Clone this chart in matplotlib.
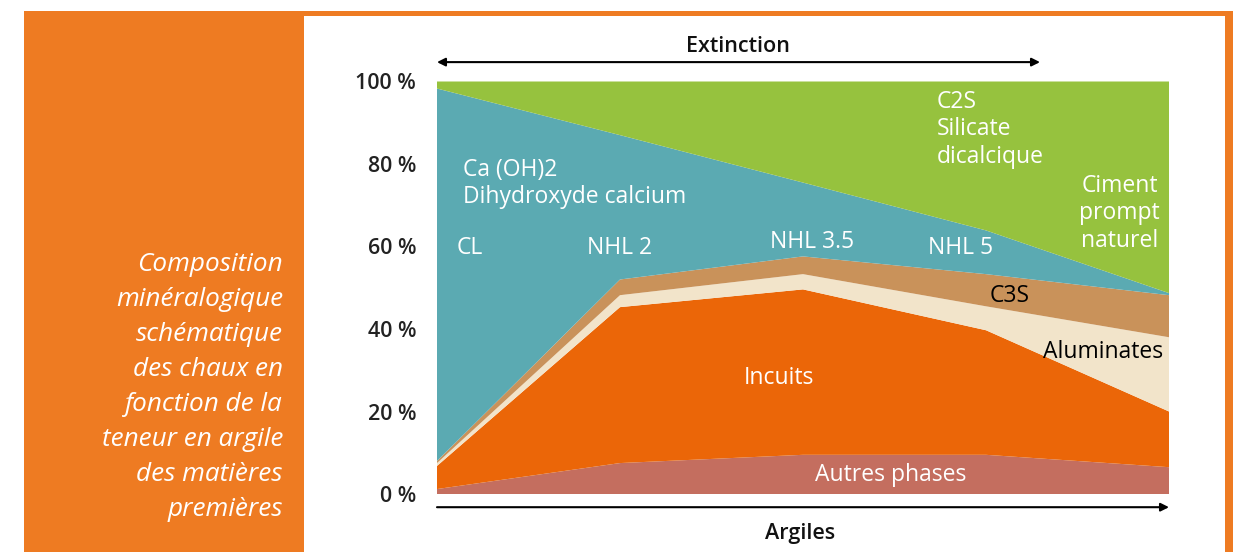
import matplotlib

matplotlib.use("Agg")
import matplotlib.pyplot as plt
from matplotlib.patches import Rectangle

plt.rcParams["font.family"] = ["Open Sans", "DejaVu Sans"]

# 5 positions along the clay-content axis
POSITIONS = [0, 1, 2, 3, 4]
# stacked layer thicknesses (%), bottom to top
AUTRES = [1.2, 7.5, 9.5, 9.5, 6.5]
INCUITS = [5.6, 37.8, 40.1, 30.2, 13.5]
ALUMINATES = [0.7, 2.9, 3.7, 5.8, 18.0]
C3S = [0.5, 3.8, 4.3, 7.8, 10.2]
CAOH2 = [90.3, 35.0, 17.9, 10.6, 0.5]
C2S = [1.7, 13.0, 24.5, 36.1, 51.3]

LAYERS = [AUTRES, INCUITS, ALUMINATES, C3S, CAOH2, C2S]
COLORS = ["#C46E5F", "#EB6608", "#F2E4CA", "#C9925A", "#5BAAB2", "#96C23E"]
YTICKS = [0, 20, 40, 60, 80, 100]
YTICK_LABELS = ["0 %", "20 %", "40 %", "60 %", "80 %", "100 %"]

ORANGE = "#EE7B22"
W, H = 1239, 552

fig = plt.figure(figsize=(W / 100, H / 100), dpi=100)

# cadre orange
def px_rect(x0, y0, x1, y1):
    fig.patches.append(Rectangle((x0 / W, 1 - y1 / H), (x1 - x0) / W, (y1 - y0) / H,
                                 transform=fig.transFigure, color=ORANGE, lw=0, zorder=0))

px_rect(24, 11, 304, 552)
px_rect(24, 11, 1233, 16)
px_rect(1225, 11, 1233, 552)

fig.text(283 / W, 1 - 387 / H,
         "Composition\nminéralogique\nschématique\ndes chaux en\nfonction de la\nteneur en argile\ndes matières\npremières",
         ha="right", va="center", color="white", style="italic", fontsize=18.8, linespacing=1.52)

ax = fig.add_axes([437 / W, 1 - 494 / H, (1169 - 437) / W, (494 - 81.5) / H])
ax.stackplot(POSITIONS, *LAYERS, colors=COLORS, linewidth=0)
ax.set_xlim(0, 4)
ax.set_ylim(0, 100)
ax.set_xticks([])
ax.set_yticks(YTICKS)
ax.set_yticklabels(YTICK_LABELS, fontsize=15.5, fontweight="semibold", color="#222222")
ax.tick_params(axis="y", length=0, pad=15)
for s in ax.spines.values():
    s.set_visible(False)

# étiquettes dans le graphique
txt = dict(color="white", fontsize=16.5, fontweight="medium")
ax.text(0.142, 75.3, "Ca (OH)2\nDihydroxyde calcium", ha="left", va="center", linespacing=1.2, **txt)
ax.text(0.18, 59.6, "CL", ha="center", va="center", **txt)
ax.text(1.0, 59.6, "NHL 2", ha="center", va="center", **txt)
ax.text(2.05, 61.0, "NHL 3.5", ha="center", va="center", **txt)
ax.text(2.86, 59.6, "NHL 5", ha="center", va="center", **txt)
ax.text(2.73, 88.4, "C2S\nSilicate\ndicalcique", ha="left", va="center", linespacing=1.2, **txt)
ax.text(3.73, 68.0, "Ciment\nprompt\nnaturel", ha="center", va="center", linespacing=1.2, **txt)
ax.text(1.87, 28.1, "Incuits", ha="center", va="center", **txt)
ax.text(2.48, 4.6, "Autres phases", ha="center", va="center", **txt)
ax.text(3.13, 48.0, "C3S", ha="center", va="center", color="black", fontsize=16.5, fontweight="medium")
ax.text(3.64, 34.4, "Aluminates", ha="center", va="center", color="black", fontsize=16.5,
        fontweight="medium")

# flèches
arrow = dict(arrowstyle="-|>", color="black", lw=1.5, mutation_scale=12, shrinkA=0, shrinkB=0)
ax.annotate("", xy=(4.0, -3.2), xytext=(0.0, -3.2), xycoords="data",
            arrowprops=arrow, annotation_clip=False)
ax.annotate("", xy=((1040 - 437) / 183, 104.7), xytext=(0.0, 104.7), xycoords="data",
            arrowprops=dict(arrow, arrowstyle="<|-|>"), annotation_clip=False)
fig.text(738 / W, 1 - 46 / H, "Extinction", ha="center", va="center",
         fontsize=15.5, fontweight="semibold", color="#111111")
fig.text(800 / W, 1 - 534 / H, "Argiles", ha="center", va="center",
         fontsize=15.5, fontweight="semibold", color="#111111")

fig.savefig("out.png", dpi=100)
